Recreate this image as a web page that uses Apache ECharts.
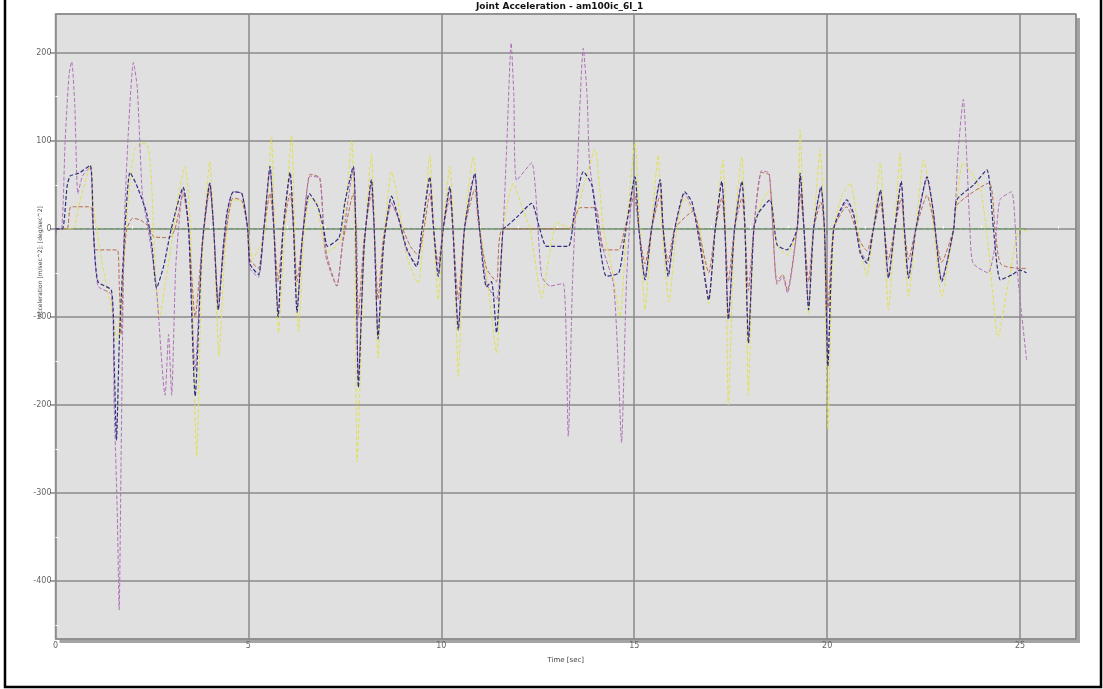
<!DOCTYPE html>
<html><head><meta charset="utf-8">
<script src="https://cdn.jsdelivr.net/npm/echarts@6/dist/echarts.min.js"></script>
<style>html,body{margin:0;padding:0;background:#fff}#c{width:1103px;height:689px}</style>
</head><body><div id="c"></div>
<script>
const titleText = 'Joint Acceleration - am100ic_6l_1';
const xName = 'Time [sec]';
const yName = 'Acceleration [m/sec^2]; [deg/sec^2]';
const seriesNames = ['Joint 1', 'Joint 2', 'Joint 3', 'Joint 4', 'Joint 5'];

// [time, acceleration] pairs
const greenJoint = [[0,0],[25.17,0]];
const yellowJoint = [[0,0],[0.45,0],[0.6,25],[0.91,72],[1.0,20],[1.15,-24],[1.3,-60],[1.45,-90],[1.6,-126],[1.68,-100],[1.8,-20],[1.9,40],[2.05,90],[2.2,97],[2.38,96],[2.48,60],[2.6,-60],[2.7,-100],[2.85,-60],[3.0,-20],[3.15,30],[3.36,71],[3.5,0],[3.66,-259],[3.8,-40],[4.0,77],[4.1,0],[4.24,-145],[4.4,-20],[4.6,33],[4.83,30],[5.0,0],[5.1,-35],[5.3,-20],[5.45,0],[5.6,104],[5.68,0],[5.78,-118],[5.95,0],[6.12,106],[6.2,0],[6.3,-117],[6.45,0],[6.6,35],[6.77,30],[7.03,-27],[7.38,-15],[7.55,40],[7.68,100],[7.75,0],[7.82,-265],[8.0,-30],[8.19,84],[8.27,0],[8.36,-147],[8.5,-20],[8.71,65],[8.85,40],[9.1,-30],[9.4,-62],[9.55,0],[9.7,84],[9.8,0],[9.92,-81],[10.05,0],[10.22,71],[10.32,0],[10.44,-168],[10.6,0],[10.83,82],[10.95,20],[11.2,-60],[11.43,-141],[11.6,0],[11.87,52],[12.05,30],[12.3,0],[12.6,-78],[12.8,-30],[13.0,7],[13.35,0],[13.7,50],[13.98,90],[14.2,0],[14.4,-40],[14.63,-100],[14.8,0],[15.02,98],[15.15,0],[15.28,-92],[15.45,0],[15.62,84],[15.72,0],[15.9,-83],[16.1,0],[16.3,35],[16.5,20],[16.71,0],[16.93,-85],[17.1,0],[17.3,78],[17.37,0],[17.44,-200],[17.6,0],[17.79,82],[17.87,0],[17.96,-189],[18.1,0],[18.3,30],[18.52,45],[18.7,-18],[18.96,-30],[19.22,0],[19.3,112],[19.4,0],[19.52,-96],[19.65,0],[19.82,90],[19.92,0],[20.02,-228],[20.17,0],[20.4,40],[20.6,52],[20.86,-20],[21.03,-54],[21.2,0],[21.38,75],[21.48,0],[21.59,-92],[21.75,0],[21.89,86],[21.98,0],[22.11,-77],[22.3,0],[22.5,78],[22.7,30],[22.97,-77],[23.28,0],[23.52,75],[23.8,60],[24.0,40],[24.2,-30],[24.43,-123],[24.7,-60],[25.0,0],[25.17,-3]];
const brownJoint = [[0,0],[0.3,0],[0.4,25],[0.9,25],[0.98,0],[1.05,-24],[1.6,-24],[1.65,-60],[1.7,-120],[1.78,-30],[1.85,0],[2.0,12],[2.2,10],[2.4,3],[2.55,-9],[2.95,-10],[3.1,0],[3.31,40],[3.45,0],[3.62,-100],[3.8,-20],[4.0,45],[4.1,0],[4.22,-80],[4.4,-10],[4.6,35],[4.83,32],[4.98,0],[5.04,-35],[5.26,-45],[5.4,0],[5.56,40],[5.66,0],[5.77,-60],[5.9,0],[6.08,40],[6.17,0],[6.26,-60],[6.4,-10],[6.6,62],[6.85,58],[6.95,0],[7.03,-30],[7.29,-65],[7.45,-15],[7.72,40],[7.8,0],[7.85,-100],[8.0,-10],[8.19,40],[8.26,0],[8.36,-80],[8.5,-10],[8.71,29],[8.95,5],[9.2,-20],[9.4,-30],[9.55,0],[9.7,40],[9.8,0],[9.92,-40],[10.05,0],[10.22,35],[10.3,0],[10.44,-80],[10.6,0],[10.87,45],[10.95,10],[11.17,-45],[11.43,-60],[11.6,0],[13.3,0],[13.6,24],[14.0,24],[14.1,0],[14.2,-24],[14.6,-24],[14.75,0],[15.02,40],[15.12,0],[15.28,-40],[15.45,0],[15.67,38],[15.75,0],[15.88,-38],[16.05,0],[16.53,20],[16.71,-10],[16.93,-50],[17.1,0],[17.27,35],[17.35,0],[17.44,-60],[17.6,0],[17.79,35],[17.87,0],[17.96,-70],[18.1,0],[18.3,64],[18.5,61],[18.7,-60],[18.85,-52],[18.97,-70],[19.22,0],[19.3,40],[19.4,0],[19.52,-60],[19.65,0],[19.84,30],[19.93,0],[20.02,-90],[20.17,0],[20.5,25],[20.86,-15],[21.03,-25],[21.2,0],[21.38,30],[21.48,0],[21.59,-35],[21.75,0],[21.92,35],[22.0,0],[22.11,-35],[22.3,0],[22.59,38],[22.75,10],[22.97,-38],[23.28,0],[23.36,27],[24.2,52],[24.35,0],[24.5,-40],[25.0,-45],[25.17,-45]];
const magentaJoint = [[0,0],[0.15,0],[0.25,100],[0.35,175],[0.42,190],[0.5,140],[0.58,40],[0.7,60],[0.9,70],[0.98,0],[1.1,-65],[1.45,-75],[1.52,-200],[1.6,-320],[1.65,-433],[1.7,-260],[1.78,0],[1.9,120],[2.02,189],[2.12,160],[2.25,40],[2.4,0],[2.6,-60],[2.84,-189],[2.93,-120],[3.01,-189],[3.12,-40],[3.31,47],[3.45,0],[3.62,-160],[3.8,-20],[4.0,52],[4.1,0],[4.22,-92],[4.35,-20],[4.6,42],[4.83,40],[4.98,0],[5.04,-45],[5.26,-55],[5.4,0],[5.56,68],[5.66,0],[5.77,-95],[5.9,0],[6.08,60],[6.17,0],[6.26,-90],[6.4,-10],[6.6,60],[6.85,57],[7.0,-30],[7.29,-65],[7.45,-10],[7.72,68],[7.78,0],[7.85,-170],[8.0,-20],[8.19,52],[8.26,0],[8.36,-120],[8.5,-20],[8.71,29],[8.9,10],[9.1,-25],[9.36,-40],[9.5,0],[9.7,55],[9.8,0],[9.92,-50],[10.05,0],[10.22,45],[10.3,0],[10.44,-110],[10.6,0],[10.87,60],[10.95,20],[11.17,-62],[11.43,-80],[11.6,0],[11.7,100],[11.81,211],[11.88,150],[11.95,55],[12.34,75],[12.6,-54],[12.82,-65],[13.16,-62],[13.29,-236],[13.4,-60],[13.5,40],[13.68,205],[13.78,150],[13.85,71],[14.2,-24],[14.46,-62],[14.58,-150],[14.67,-243],[14.8,-60],[14.97,48],[15.12,0],[15.28,-55],[15.45,0],[15.67,53],[15.75,0],[15.88,-50],[16.05,0],[16.31,40],[16.53,20],[16.71,-15],[16.93,-78],[17.1,0],[17.27,52],[17.35,0],[17.44,-100],[17.6,0],[17.79,52],[17.87,0],[17.96,-125],[18.1,0],[18.3,66],[18.5,63],[18.7,-63],[18.85,-55],[18.97,-73],[19.22,0],[19.3,60],[19.4,0],[19.52,-88],[19.65,0],[19.84,46],[19.93,0],[20.02,-150],[20.17,0],[20.51,30],[20.68,15],[20.86,-25],[21.03,-36],[21.2,0],[21.38,42],[21.48,0],[21.59,-53],[21.75,0],[21.92,52],[22.0,0],[22.11,-53],[22.3,0],[22.59,56],[22.75,20],[22.97,-57],[23.28,0],[23.4,90],[23.53,147],[23.62,80],[23.7,0],[23.78,-39],[24.17,-50],[24.35,-20],[24.48,33],[24.78,42],[24.88,0],[24.95,-58],[25.17,-149]];
const navyJoint = [[0,0],[0.18,0],[0.3,48],[0.38,60],[0.6,63],[0.9,72],[0.98,0],[1.1,-60],[1.45,-70],[1.52,-150],[1.58,-240],[1.66,-120],[1.8,0],[1.93,64],[2.1,50],[2.36,18],[2.5,-20],[2.62,-67],[2.8,-43],[3.0,0],[3.31,47],[3.45,0],[3.62,-190],[3.8,-20],[4.0,52],[4.1,0],[4.22,-92],[4.35,-20],[4.45,20],[4.61,42],[4.83,40],[4.98,0],[5.04,-40],[5.26,-52],[5.4,0],[5.56,71],[5.66,0],[5.77,-100],[5.9,0],[6.08,64],[6.17,0],[6.26,-95],[6.4,-10],[6.58,40],[6.8,25],[6.95,0],[7.05,-20],[7.35,-10],[7.5,30],[7.72,71],[7.78,0],[7.85,-180],[8.0,-20],[8.19,56],[8.26,0],[8.36,-125],[8.5,-20],[8.71,37],[8.88,14],[9.1,-22],[9.36,-43],[9.5,0],[9.7,59],[9.8,0],[9.92,-54],[10.05,0],[10.22,48],[10.3,0],[10.44,-115],[10.6,0],[10.87,63],[10.95,20],[11.17,-66],[11.3,-60],[11.43,-118],[11.6,0],[11.7,3],[12.0,15],[12.34,29],[12.55,0],[12.73,-20],[13.29,-20],[13.45,20],[13.68,65],[13.9,50],[14.05,0],[14.28,-54],[14.6,-50],[14.75,-10],[15.02,59],[15.12,0],[15.28,-58],[15.45,0],[15.67,56],[15.75,0],[15.88,-54],[16.05,0],[16.31,42],[16.5,30],[16.71,-20],[16.93,-81],[17.1,0],[17.27,54],[17.35,0],[17.44,-103],[17.6,0],[17.79,54],[17.87,0],[17.96,-130],[18.1,0],[18.22,18],[18.52,33],[18.7,-18],[18.96,-24],[19.22,0],[19.3,63],[19.4,0],[19.52,-92],[19.65,0],[19.84,48],[19.93,0],[20.02,-156],[20.17,0],[20.51,33],[20.68,18],[20.86,-28],[21.03,-39],[21.2,0],[21.38,44],[21.48,0],[21.59,-56],[21.75,0],[21.92,54],[22.0,0],[22.11,-56],[22.3,0],[22.59,59],[22.75,20],[22.97,-60],[23.28,0],[23.36,33],[23.8,50],[24.14,67],[24.31,0],[24.49,-58],[24.8,-52],[25.0,-47],[25.17,-50]];

const seriesData = [greenJoint, yellowJoint, brownJoint, magentaJoint, navyJoint];
const seriesColors = ['#5aa05a', '#e0e050', '#b86a4a', '#b070b8', '#2e2e80'];
const seriesWidths = [1, 1, 1, 1, 1.2];

const chart = echarts.init(document.getElementById('c'), null, {renderer: 'canvas'});
const labelStyle = {fontSize: 8, color: '#666', fontFamily: 'DejaVu Sans'};
const G = {left: 55.5, top: 14, right: 27, bottom: 50};
const gw = 1103 - G.left - G.right, gh = 689 - G.top - G.bottom;
chart.setOption({
  animation: false,
  backgroundColor: '#fff',
  grid: {left: G.left, top: G.top, right: G.right, bottom: G.bottom, show: false},
  xAxis: [{
    type: 'value', min: 0, max: 26.45, interval: 5,
    name: xName, nameLocation: 'middle', nameGap: 18,
    nameTextStyle: {fontSize: 7, color: '#444', fontFamily: 'DejaVu Sans'},
    axisLine: {show: false},
    axisTick: {show: true, length: 6, lineStyle: {color: '#888', width: 1.5}},
    axisLabel: Object.assign({margin: 3, showMaxLabel: false}, labelStyle),
    splitLine: {show: true, lineStyle: {color: '#8a8a8a', width: 1.5}}
  }, {
    type: 'value', min: 0, max: 26.45, interval: 5, position: 'bottom',
    axisLine: {show: false}, axisLabel: {show: false}, splitLine: {show: false},
    axisTick: {show: false, inside: true},
    minorTick: {show: true, splitNumber: 5, length: 3, lineStyle: {color: '#fff', width: 1}}
  }],
  yAxis: [{
    type: 'value', min: -466, max: 244,
    axisLine: {show: false},
    axisTick: {show: true, length: 5, lineStyle: {color: '#888', width: 1.5}},
    axisLabel: Object.assign({margin: 4, showMinLabel: false, showMaxLabel: false}, labelStyle),
    splitLine: {show: true, lineStyle: {color: '#8a8a8a', width: 1.5}}
  }, {
    type: 'value', min: -466, max: 244, position: 'left',
    axisLine: {show: false}, axisLabel: {show: false}, splitLine: {show: false},
    axisTick: {show: false, inside: true},
    minorTick: {show: true, splitNumber: 2, length: 3, lineStyle: {color: '#fff', width: 1}}
  }],
  graphic: [
    {type: 'rect', z: -20, silent: true, shape: {x: G.left + 4, y: G.top + 4, width: gw, height: gh}, style: {fill: '#a4a4a4'}},
    {type: 'rect', z: -10, silent: true, shape: {x: G.left, y: G.top, width: gw, height: gh}, style: {fill: '#e0e0e0', stroke: '#999', lineWidth: 1.5}},
    {type: 'text', left: 558 - 82, top: 2, style: {text: titleText, fontSize: 9, fontWeight: 'bold', fontFamily: 'DejaVu Sans', fill: '#111'}},
    {type: 'text', x: 40, y: 262, rotation: Math.PI / 2, style: {text: yName, fontSize: 6, fontFamily: 'DejaVu Sans', fill: '#444', align: 'center', verticalAlign: 'middle'}},
    {type: 'rect', shape: {x: 5, y: -10, width: 1096, height: 697}, style: {fill: 'none', stroke: '#000', lineWidth: 2.5}, silent: true}
  ],
  series: seriesData.map((d, i) => ({
    name: seriesNames[i], type: 'line', data: d, showSymbol: false, smooth: 0.2,
    xAxisIndex: 0, yAxisIndex: 0, clip: true,
    lineStyle: {color: seriesColors[i], width: seriesWidths[i], type: [4, 2]}
  }))
});
</script></body></html>
